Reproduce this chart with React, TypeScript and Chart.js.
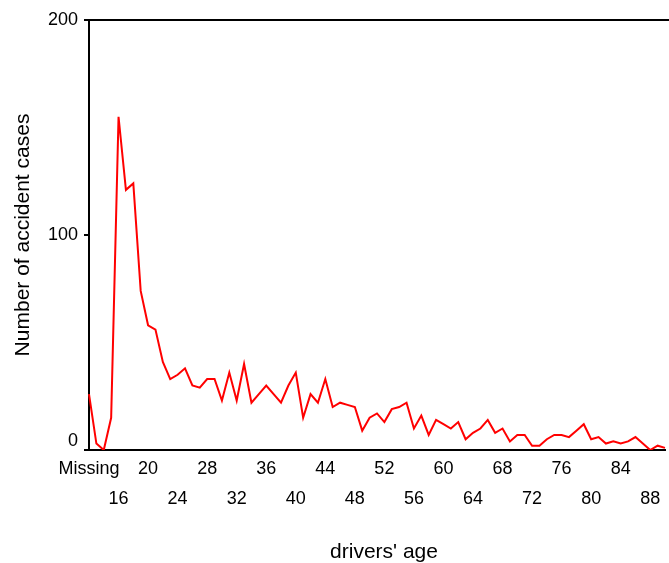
import React, { useEffect, useRef } from 'react';
import { Chart, registerables } from 'chart.js';

Chart.register(...registerables);

const categories = [
  'Missing', '13', '14', '15', '16', '17', '18', '19', '20', '21', '22', '23', '24', '25', '26', '27',
  '28', '29', '30', '31', '32', '33', '34', '35', '36', '37', '38', '39', '40', '41', '42', '43',
  '44', '45', '46', '47', '48', '49', '50', '51', '52', '53', '54', '55', '56', '57', '58', '59',
  '60', '61', '62', '63', '64', '65', '66', '67', '68', '69', '70', '71', '72', '73', '74', '75',
  '76', '77', '78', '79', '80', '81', '82', '83', '84', '85', '86', '87', '88', '89', '90',
];

const accidentCases = [
  26, 3, 0, 15, 155, 121, 124, 74, 58, 56, 41, 33, 35, 38, 30, 29,
  33, 33, 23, 36, 23, 40, 22, 26, 30, 26, 22, 30, 36, 15, 26, 22, 33, 20, 22, 21,
  20, 9, 15, 17, 13, 19, 20, 22, 10, 16, 7, 14, 12, 10, 13, 5, 8, 10, 14, 8,
  10, 4, 7, 7, 2, 2, 5, 7, 7, 6, 9, 12, 5, 6, 3, 4, 3, 4, 6, 3, 0, 2, 1,
];

const shownTicks = [
  'Missing', '16', '20', '24', '28', '32', '36', '40', '44', '48',
  '52', '56', '60', '64', '68', '72', '76', '80', '84', '88',
];

const yTicks = [0, 100, 200];

const xTitle = "drivers' age";
const yTitle = 'Number of accident cases';

const FONT = "'Liberation Sans', Arial, sans-serif";

const framePlugin = {
  id: 'frameAndTitle',
  afterDraw(chart: any) {
    const { ctx, chartArea } = chart;
    ctx.save();
    ctx.strokeStyle = '#000';
    ctx.lineWidth = 2;
    ctx.beginPath();
    ctx.moveTo(chartArea.left, chartArea.top);
    ctx.lineTo(chart.width, chartArea.top);
    ctx.stroke();
    ctx.fillStyle = '#000';
    ctx.font = `21px ${FONT}`;
    ctx.textAlign = 'center';
    ctx.textBaseline = 'middle';
    ctx.fillText(xTitle, 384, 552);
    ctx.restore();
  },
};

export default function App() {
  const canvasRef = useRef<HTMLCanvasElement | null>(null);

  useEffect(() => {
    if (!canvasRef.current) return;
    const chart = new Chart(canvasRef.current, {
      type: 'line',
      data: {
        labels: categories,
        datasets: [
          {
            data: accidentCases,
            borderColor: '#ff0000',
            backgroundColor: '#ff0000',
            borderWidth: 2,
            pointRadius: 0,
            pointHoverRadius: 0,
            tension: 0,
            fill: false,
          },
        ],
      },
      options: {
        responsive: false,
        animation: false,
        events: [],
        layout: { padding: { left: 0, right: 0, top: 20, bottom: 0 } },
        plugins: {
          legend: { display: false },
          tooltip: { enabled: false },
        },
        scales: {
          x: {
            type: 'category',
            offset: false,
            grid: { display: false, drawTicks: false },
            border: { display: true, color: '#000', width: 2 },
            afterFit(scale: any) {
              scale.height = 113;
            },
            ticks: {
              autoSkip: false,
              maxRotation: 0,
              minRotation: 0,
              padding: 4,
              color: '#000',
              font: { family: FONT, size: 18, lineHeight: '30px' },
              callback(_value: any, index: number) {
                const label = categories[index];
                const pos = shownTicks.indexOf(label);
                if (pos < 0) return '';
                return pos % 2 === 0 ? [label] : ['', label];
              },
            },
            title: { display: false },
          },
          y: {
            min: 0,
            max: 200,
            afterFit(scale: any) {
              scale.width = 89;
            },
            afterBuildTicks(scale: any) {
              scale.ticks = yTicks.map((v) => ({ value: v }));
            },
            grid: {
              drawOnChartArea: false,
              drawTicks: true,
              tickLength: 5,
              color: '#000',
              lineWidth: 2,
            },
            border: { display: true, color: '#000', width: 2 },
            ticks: {
              padding: 6,
              color: '#000',
              font: { family: FONT, size: 18, lineHeight: '18px' },
              callback(value: any) {
                return Number(value) === 0 ? ['0', ''] : String(value);
              },
            },
            title: {
              display: true,
              text: yTitle,
              color: '#000',
              font: { family: FONT, size: 21, lineHeight: 1 },
              padding: { top: 12.5, bottom: 0 },
            },
          },
        },
      },
      plugins: [framePlugin],
    } as any);
    return () => chart.destroy();
  }, []);

  return (
    <div
      style={{
        position: 'fixed',
        left: 0,
        top: 0,
        width: 669,
        height: 563,
        overflow: 'hidden',
        background: '#fff',
      }}
    >
      <canvas ref={canvasRef} width={669} height={563} style={{ display: 'block' }} />
    </div>
  );
}
